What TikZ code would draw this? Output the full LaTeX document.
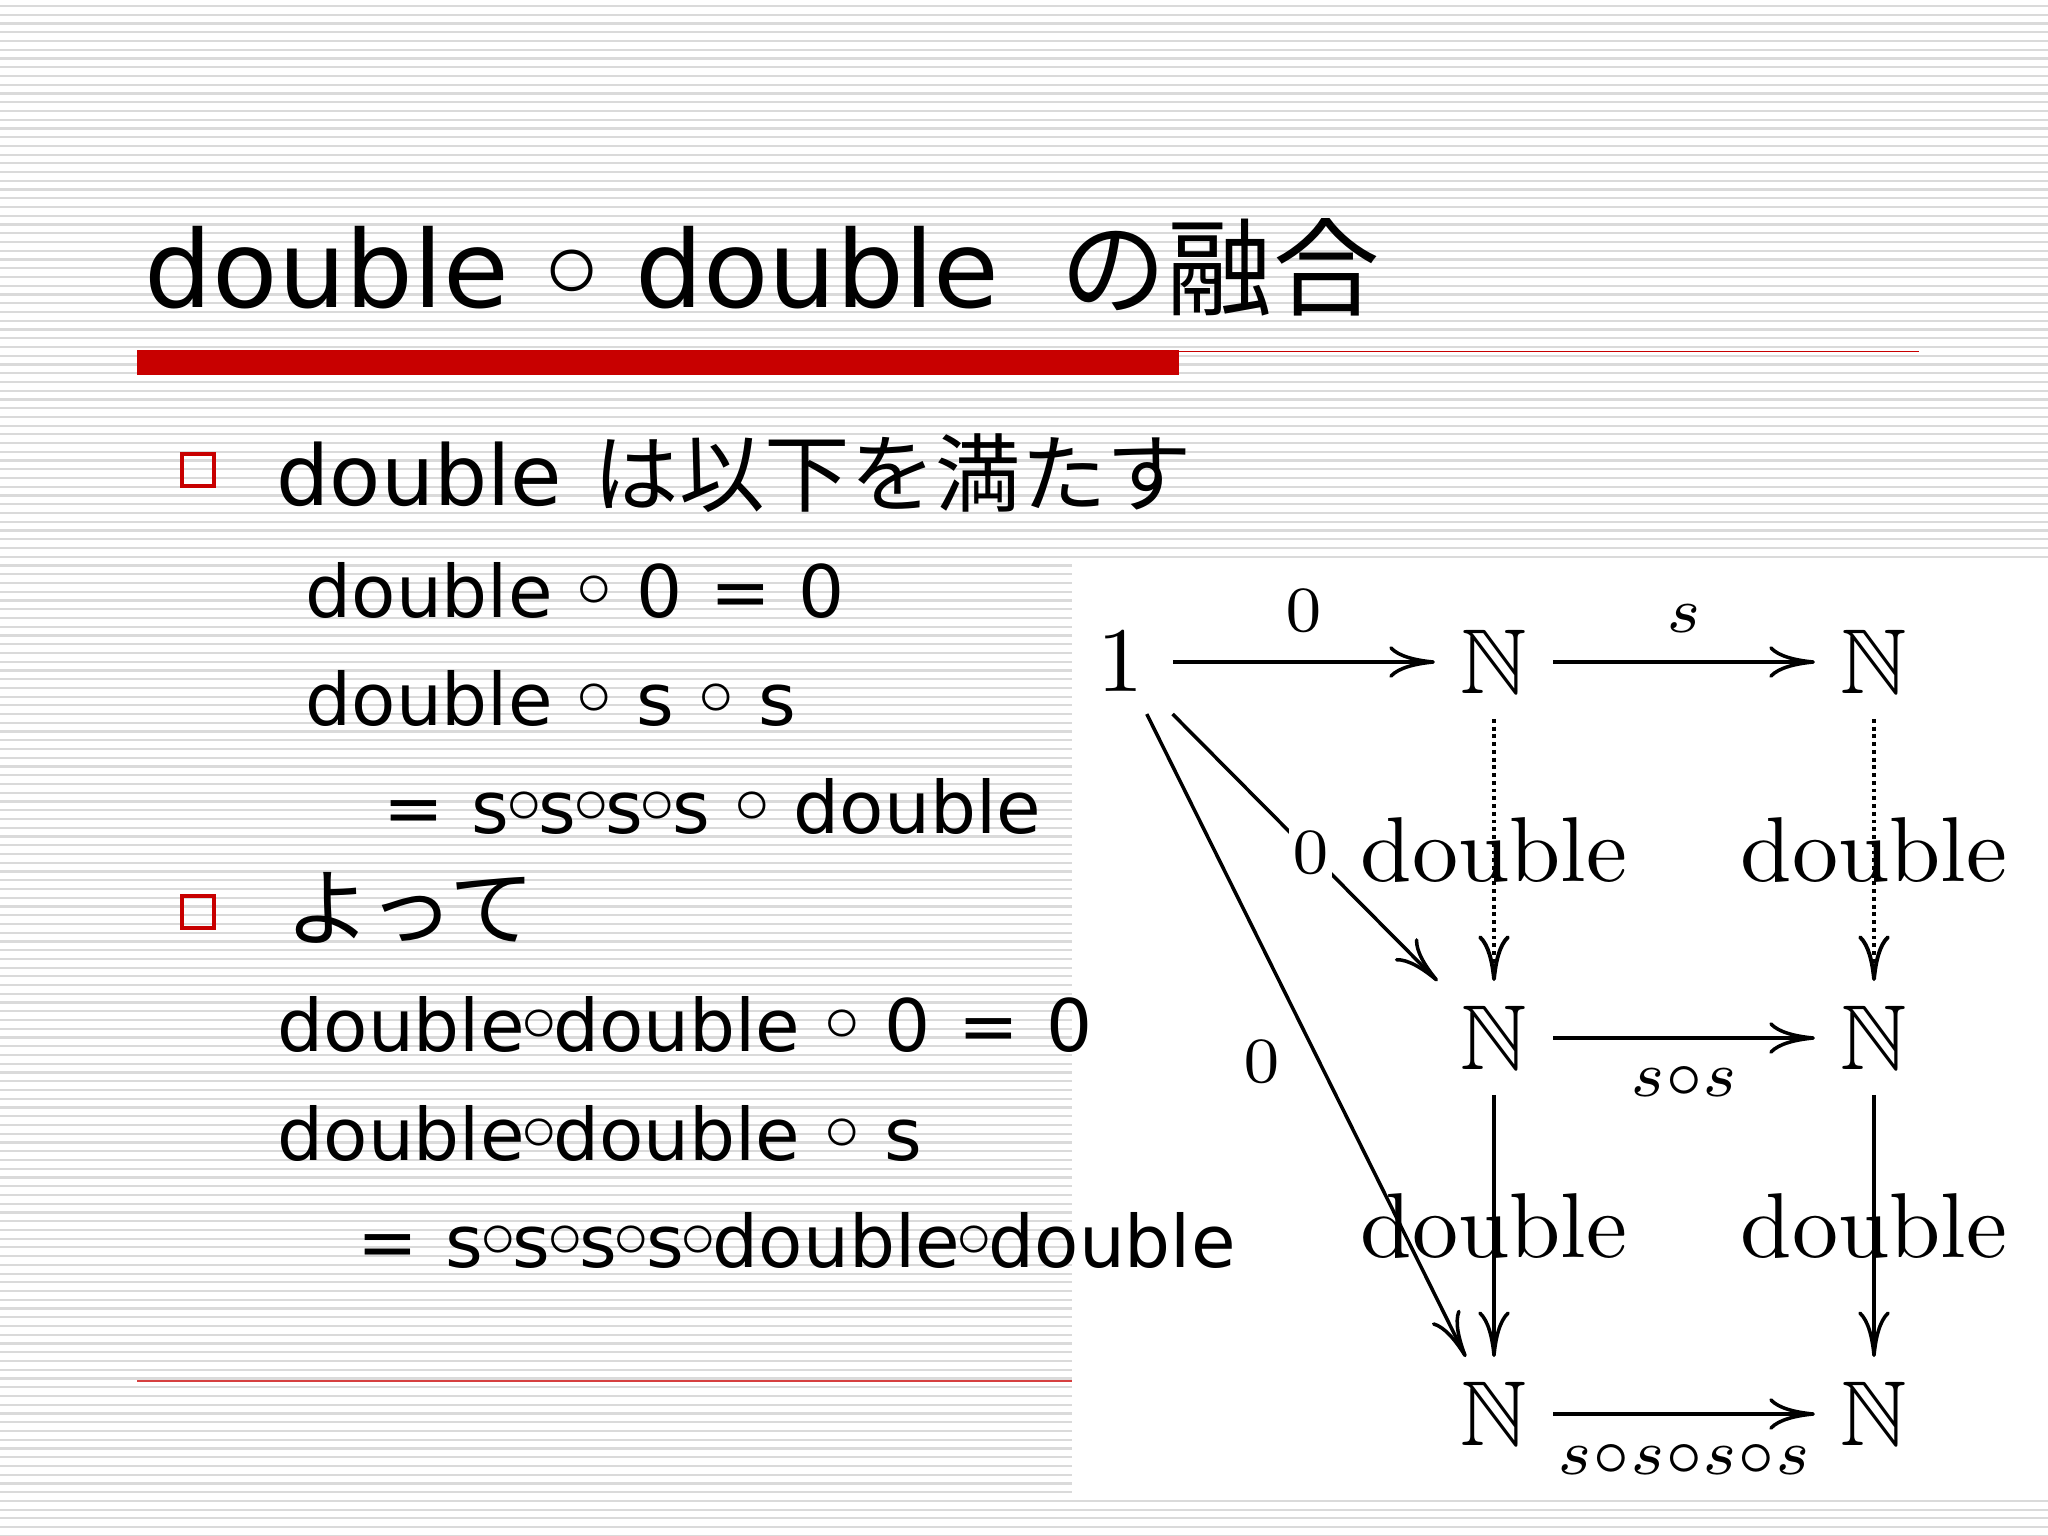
\RequirePackage{fix-cm}
\documentclass[tikz,border=0pt]{standalone}
\usepackage{amssymb}
\usepackage{graphicx}
\usepackage{fontspec}
\newfontfamily\dv{DejaVu Sans}
\newfontfamily\jp{Noto Sans CJK JP}
\usetikzlibrary{arrows.meta}
\definecolor{slidered}{RGB}{200,0,0}
\definecolor{stripegray}{RGB}{218,218,218}
\newcommand\rg{\makebox[.4em]{\raisebox{-.1em}{\scalebox{1.3}{◦}}}}
\newcommand\trg{\makebox[.38em]{\raisebox{-.16em}{\scalebox{1.35}{◦}}}}
\newcommand\dg[1]{\scalebox{2.62}{#1}}
\tikzset{
  stripe/.style={stripegray, line width=0.63pt},
  titletext/.style={anchor=base west, inner sep=0pt, font={\dv\fontsize{30.4pt}{36pt}\selectfont\spaceskip=.4em\relax}},
  titlejp/.style={anchor=base west, inner sep=0pt, font={\jp\fontsize{30.2pt}{36pt}\selectfont}},
  lvlone/.style={anchor=base west, inner sep=0pt, font={\dv\fontsize{23.8pt}{28pt}\selectfont\spaceskip=.38em\relax}},
  lvltwo/.style={anchor=base west, inner sep=0pt, font={\dv\fontsize{20.6pt}{24pt}\selectfont\spaceskip=.38em\relax}},
  jpone/.style={font={\jp\fontsize{24.3pt}{28pt}\selectfont}},
  bul/.style={draw=slidered, line width=1pt, minimum size=9pt, inner sep=0pt},
  obj/.style={inner sep=0pt, outer sep=0pt, minimum width=33.6pt, minimum height=32.4pt, font=\fontsize{10pt}{12pt}\selectfont},
  oneobj/.style={obj, minimum width=29.6pt, minimum height=29.6pt},
  arr/.style={line width=1pt, -{Computer Modern Rightarrow[length=13pt,width=9pt]}},
  dotarr/.style={arr, line width=1.1pt, dash pattern=on 1.1pt off 1.1pt},
  lab/.style={inner sep=0pt, font=\fontsize{10pt}{12pt}\selectfont},
  dlab/.style={inner sep=0pt, font=\fontsize{10pt}{12pt}\selectfont},
}
\begin{document}
\begin{tikzpicture}[x=0.01cm,y=-0.01cm]
\useasboundingbox (0,0) rectangle (2048,1536);
\fill[white] (0,0) rectangle (2048,1536);
\foreach \i in {0,...,175} \draw[stripe] (0,{6+\i*8.742}) -- (2048,{6+\i*8.742});
% picture area
\fill[white] (1072,560) rectangle (2048,1493);
% title rules
\fill[slidered] (137,350) rectangle (1179,375);
\draw[slidered, line width=0.55pt] (1179,351.5) -- (1919,351.5);
\draw[slidered!75, line width=0.4pt] (137,1381) -- (1072,1381);
% title
\node[titletext] (title) at (144,307) {double \trg{} double};
\node[titlejp] (titlejp) at (1060,307) {の融合};
% bullets
\node[bul] (b1) at (198,470) {};
\node[bul] (b2) at (198,912) {};
% body text
\node[lvlone] (t1) at (276,505) {double {\jp\fontsize{24.3pt}{28pt}\selectfont は以下を満たす}};
\node[lvltwo] (t2) at (305,617) {double \rg{} 0 = 0};
\node[lvltwo] (t3) at (305,725) {double \rg{} s \rg{} s};
\node[lvltwo] (t4) at (383,833) {= s\rg{}s\rg{}s\rg{}s \rg{} double};
\node[lvlone, jpone] (t5) at (285,939) {よって};
\node[lvltwo] (t6) at (277,1051) {double\rg{}double \rg{} 0 = 0};
\node[lvltwo] (t7) at (277,1160) {double\rg{}double \rg{} s};
\node[lvltwo] (t8) at (357,1267) {= s\rg{}s\rg{}s\rg{}s\rg{}double\rg{}double};
% diagram
\node[oneobj] (one) at (1121,662) {\dg{$1$}};
\node[obj] (n11) at (1494,662) {\dg{$\mathbb{N}$}};
\node[obj] (n12) at (1874,662) {\dg{$\mathbb{N}$}};
\node[obj] (n21) at (1494,1038) {\dg{$\mathbb{N}$}};
\node[obj] (n22) at (1874,1038) {\dg{$\mathbb{N}$}};
\node[obj] (n31) at (1494,1414) {\dg{$\mathbb{N}$}};
\node[obj] (n32) at (1874,1414) {\dg{$\mathbb{N}$}};
\draw[arr] (one) -- node[lab, midway, above=8.2pt] {\dg{$\scriptstyle 0$}} (n11);
\draw[arr] (n11) -- node[lab, midway, above=8pt] {\dg{$\scriptstyle s$}} (n12);
\draw[dotarr] (n11) -- node[dlab, midway] {\dg{double}} (n21);
\draw[dotarr] (n12) -- node[dlab, midway] {\dg{double}} (n22);
\draw[arr] (n21) -- node[lab, midway, below=7.7pt] {\dg{$\scriptstyle s\circ s$}} (n22);
\draw[arr] (n21) -- node[dlab, midway] {\dg{double}} (n31);
\draw[arr] (n22) -- node[dlab, midway] {\dg{double}} (n32);
\draw[arr] (n31) -- node[lab, midway, below=8.3pt] {\dg{$\scriptstyle s\circ s\circ s\circ s$}} (n32);
\draw[arr] (one) -- node[lab, pos=0.52, fill=white, inner sep=1pt] {\dg{$\scriptstyle 0$}} (n21);
\draw[arr] (one) -- node[lab, pos=0.54, left=10.5pt] {\dg{$\scriptstyle 0$}} (n31);
\end{tikzpicture}
\end{document}
